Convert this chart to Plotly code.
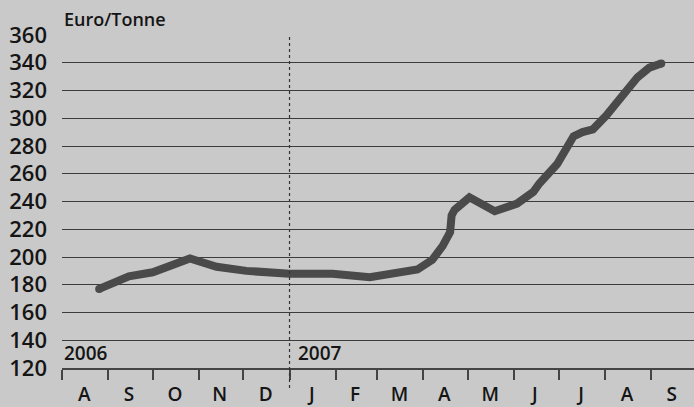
import plotly.graph_objects as go

# Price data (Euro/Tonne)
dates = ["2006-08-26", "2006-09-15", "2006-10-01", "2006-10-26", "2006-11-13",
         "2006-12-03", "2007-01-01", "2007-01-30", "2007-02-24", "2007-03-16",
         "2007-03-28", "2007-04-07", "2007-04-14", "2007-04-19", "2007-04-20",
         "2007-04-22", "2007-05-02", "2007-05-19", "2007-06-03", "2007-06-14",
         "2007-06-18", "2007-06-30", "2007-07-11", "2007-07-17", "2007-07-24",
         "2007-08-02", "2007-08-13", "2007-08-23", "2007-08-31", "2007-09-08"]
prices = [177, 186, 189, 199, 193,
          190, 188, 188, 185.5, 189.5,
          191, 198, 208, 218, 230,
          234, 243, 233, 238.5, 247,
          253, 267, 287, 290, 292,
          302, 316, 329.5, 336.5, 339.5]

month_starts = ["2006-08-01", "2006-09-01", "2006-10-01", "2006-11-01", "2006-12-01",
                "2007-01-01", "2007-02-01", "2007-03-01", "2007-04-01", "2007-05-01",
                "2007-06-01", "2007-07-01", "2007-08-01", "2007-09-01"]
month_mids = ["2006-08-16", "2006-09-15", "2006-10-16", "2006-11-15", "2006-12-16",
              "2007-01-16", "2007-02-14", "2007-03-16", "2007-04-15", "2007-05-16",
              "2007-06-15", "2007-07-16", "2007-08-16", "2007-09-15"]
month_labels = ["A", "S", "O", "N", "D", "J", "F", "M", "A", "M", "J", "J", "A", "S"]
y_ticks = [120, 140, 160, 180, 200, 220, 240, 260, 280, 300, 320, 340, 360]
years = [("2006", "2006-08-01", 0), ("2007", "2007-01-01", 6)]

font_family = "Open Sans, DejaVu Sans, sans-serif"
text_color = "#151515"

fig = go.Figure()
fig.add_trace(go.Scatter(
    x=dates, y=prices, mode="lines",
    line=dict(color="#4a4a4a", width=8),
    hoverinfo="skip", showlegend=False,
))
# round end caps
fig.add_trace(go.Scatter(
    x=[dates[0], dates[-1]], y=[prices[0], prices[-1]], mode="markers",
    marker=dict(color="#4a4a4a", size=8, line=dict(width=0)),
    hoverinfo="skip", showlegend=False,
))

fig.add_shape(type="line", xref="x", yref="paper",
              x0="2007-01-01", x1="2007-01-01", y0=-0.06, y1=1,
              line=dict(color="#333333", width=1.2, dash="dot"))

for label, d, shift in years:
    fig.add_annotation(x=d, y=120, xref="x", yref="y", text=label,
                       showarrow=False, xanchor="left", yanchor="bottom",
                       xshift=shift, yshift=0,
                       font=dict(family=font_family, size=19, color=text_color, weight=600))

fig.add_annotation(x=0, y=1, xref="paper", yref="paper", text="Euro/Tonne",
                   showarrow=False, xanchor="left", yanchor="bottom", yshift=2,
                   font=dict(family=font_family, size=18, color=text_color, weight=600))

fig.update_layout(
    width=694, height=407,
    margin=dict(l=62, r=0, t=35, b=37),
    paper_bgcolor="#c9c9c9", plot_bgcolor="#c9c9c9",
    xaxis=dict(
        type="date", range=["2006-08-01", "2007-09-30"],
        tickvals=month_mids, ticktext=month_labels, ticks="",
        tickfont=dict(family=font_family, size=19, color=text_color, weight=600),
        ticklabelstandoff=8,
        showgrid=False, zeroline=False,
        showline=True, linecolor="#444444", linewidth=1.5,
        minor=dict(tickvals=month_starts, ticks="outside", ticklen=10,
                   tickwidth=1.5, tickcolor="#444444", showgrid=False),
        fixedrange=True,
    ),
    yaxis=dict(
        range=[120, 360], tickvals=y_ticks, ticks="",
        tickfont=dict(family=font_family, size=22, color=text_color, weight=600),
        ticklabelstandoff=14,
        showgrid=True, gridcolor="#3c3c3c", gridwidth=1,
        zeroline=False, showline=False, fixedrange=True,
    ),
)

fig.write_html(
    "out.html",
    config={"displayModeBar": False},
    post_script="document.body.style.margin='0';document.body.style.overflow='hidden';",
)
